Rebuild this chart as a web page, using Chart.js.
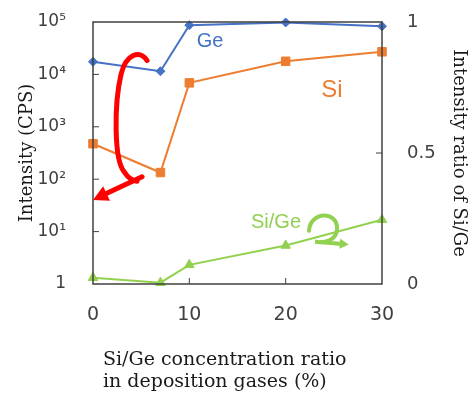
<!DOCTYPE html>
<html>
<head>
<meta charset="utf-8">
<script src="https://cdn.jsdelivr.net/npm/chart.js@4.4.0/dist/chart.umd.min.js"></script>
<style>
html, body { margin: 0; padding: 0; background: #fff; }
</style>
</head>
<body>
<canvas id="chart" width="473" height="396"></canvas>
<script>
// Si/Ge concentration ratio in deposition gases (%)
var ratio = [0, 7, 10, 20, 30];
// intensities (CPS), left log axis
var ge_cps = [17400, 11500, 87000, 98000, 83000];
var si_cps = [475, 134, 6900, 17800, 27000];
// Si/Ge intensity ratio, right axis
var si_ge = [0.024, 0.005, 0.073, 0.147, 0.245];

var log_ticks = [1, 10, 100, 1000, 10000, 100000];
var log_labels = ['1', '10\u00b9', '10\u00b2', '10\u00b3', '10\u2074', '10\u2075'];
var x_ticks = [0, 10, 20, 30];
var ratio_ticks = [0, 0.5, 1];

var axisColor = '#404040';
var tickFont = { family: '"DejaVu Sans"', size: 19 };
var sideFont = { family: '"DejaVu Sans"', size: 17 };
var titleFont = { family: '"DejaVu Serif"', size: 18 };

function pts(ys) {
  return ys.map(function (v, i) { return { x: ratio[i], y: v }; });
}

// frame, inner ticks, hand-drawn arrows and series labels
var decor = {
  id: 'decor',
  afterDatasetsDraw: function (chart) {
    var ctx = chart.ctx, a = chart.chartArea;
    var sx = chart.scales.x, sy = chart.scales.y, sr = chart.scales.y2;
    function P(x, v) { return [sx.getPixelForValue(x), sr.getPixelForValue(v)]; }

    ctx.save();
    // frame
    ctx.strokeStyle = axisColor;
    ctx.lineWidth = 1.5;
    ctx.strokeRect(a.left, a.top, a.right - a.left, a.bottom - a.top);
    // inward tick marks
    ctx.lineWidth = 1;
    ctx.beginPath();
    log_ticks.slice(1, -1).forEach(function (v) {
      var y = sy.getPixelForValue(v);
      ctx.moveTo(a.left, y); ctx.lineTo(a.left + 6, y);
    });
    x_ticks.slice(1, -1).forEach(function (v) {
      var x = sx.getPixelForValue(v);
      ctx.moveTo(x, a.bottom); ctx.lineTo(x, a.bottom - 6);
    });
    ratio_ticks.slice(1, -1).forEach(function (v) {
      var y = sr.getPixelForValue(v);
      ctx.moveTo(a.right, y); ctx.lineTo(a.right - 6, y);
    });
    ctx.stroke();

    function head(from, tip, len, half, color) {
      var ang = Math.atan2(tip[1] - from[1], tip[0] - from[0]);
      ctx.fillStyle = color;
      ctx.beginPath();
      ctx.moveTo(tip[0], tip[1]);
      ctx.lineTo(tip[0] - len * Math.cos(ang) + half * Math.sin(ang), tip[1] - len * Math.sin(ang) - half * Math.cos(ang));
      ctx.lineTo(tip[0] - len * Math.cos(ang) - half * Math.sin(ang), tip[1] - len * Math.sin(ang) + half * Math.cos(ang));
      ctx.closePath();
      ctx.fill();
    }

    // red bracket arrow
    ctx.strokeStyle = '#ff0000';
    ctx.lineWidth = 5;
    ctx.lineCap = 'round';
    var p;
    ctx.beginPath();
    p = P(5.61, 0.853); ctx.moveTo(p[0], p[1]);
    var c1 = P(4.88, 0.895), c2 = P(3.43, 0.88), e = P(2.91, 0.80);
    ctx.bezierCurveTo(c1[0], c1[1], c2[0], c2[1], e[0], e[1]);
    c1 = P(2.18, 0.685); c2 = P(2.18, 0.475); e = P(3.22, 0.429);
    ctx.bezierCurveTo(c1[0], c1[1], c2[0], c2[1], e[0], e[1]);
    c1 = P(3.84, 0.394); e = P(4.57, 0.392);
    ctx.quadraticCurveTo(c1[0], c1[1], e[0], e[1]);
    ctx.stroke();
    var rFrom = P(5.09, 0.409), rTip = P(0, 0.321), rEnd = P(1.0, 0.339);
    ctx.beginPath();
    ctx.moveTo(rFrom[0], rFrom[1]); ctx.lineTo(rEnd[0], rEnd[1]);
    ctx.stroke();
    head(rFrom, rTip, 15, 8, '#ff0000');

    // green curl arrow
    ctx.strokeStyle = '#92d050';
    ctx.lineWidth = 4;
    ctx.beginPath();
    p = P(22.42, 0.203); ctx.moveTo(p[0], p[1]);
    c1 = P(22.53, 0.28); c2 = P(25.5, 0.28); e = P(25.33, 0.207);
    ctx.bezierCurveTo(c1[0], c1[1], c2[0], c2[1], e[0], e[1]);
    c1 = P(25.23, 0.166); c2 = P(24.09, 0.156); e = P(23.05, 0.161);
    ctx.bezierCurveTo(c1[0], c1[1], c2[0], c2[1], e[0], e[1]);
    var gEnd = P(25.9, 0.153);
    ctx.lineTo(gEnd[0], gEnd[1]);
    ctx.stroke();
    head(P(23.05, 0.161), P(26.55, 0.151), 9, 5, '#92d050');

    // series labels
    ctx.textAlign = 'center';
    ctx.textBaseline = 'middle';
    ctx.font = '20px "Liberation Sans"';
    ctx.fillStyle = '#4472c4';
    p = P(12.15, 0.926); ctx.fillText('Ge', p[0], p[1]);
    ctx.font = '24px "Liberation Sans"';
    ctx.fillStyle = '#ed7d31';
    p = P(24.81, 0.739); ctx.fillText('Si', p[0], p[1]);
    ctx.font = '20px "Liberation Sans"';
    ctx.fillStyle = '#92d050';
    p = P(19.0, 0.233); ctx.fillText('Si/Ge', p[0], p[1]);

    // x axis title, two lines left aligned
    ctx.textAlign = 'left';
    ctx.textBaseline = 'alphabetic';
    ctx.fillStyle = '#1a1a1a';
    ctx.font = '19px "DejaVu Serif"';
    ctx.fillText('Si/Ge concentration ratio', a.left + 10, a.bottom + 81);
    ctx.fillText('in deposition gases (%)', a.left + 10, a.bottom + 103);
    ctx.restore();
  }
};

var ctx = document.getElementById('chart').getContext('2d');
new Chart(ctx, {
  type: 'line',
  data: {
    datasets: [
      {
        label: 'Ge', data: pts(ge_cps), yAxisID: 'y',
        borderColor: '#4472c4', backgroundColor: '#4472c4',
        borderWidth: 2, pointStyle: 'rectRot', pointRadius: 4.5, pointBorderWidth: 1,
        clip: false
      },
      {
        label: 'Si', data: pts(si_cps), yAxisID: 'y',
        borderColor: '#ed7d31', backgroundColor: '#ed7d31',
        borderWidth: 2, pointStyle: 'rect', pointRadius: 6, pointBorderWidth: 1,
        clip: false
      },
      {
        label: 'Si/Ge', data: pts(si_ge), yAxisID: 'y2',
        borderColor: '#92d050', backgroundColor: '#92d050',
        borderWidth: 2, pointStyle: 'triangle', pointRadius: 5.5, pointBorderWidth: 1,
        clip: false
      }
    ]
  },
  options: {
    responsive: false,
    animation: false,
    layout: { padding: { top: 22, left: 0, right: 0, bottom: 0 } },
    plugins: { legend: { display: false }, tooltip: { enabled: false } },
    scales: {
      x: {
        type: 'linear', min: 0, max: 30,
        grid: { display: false }, border: { display: false },
        ticks: { stepSize: 10, padding: 12, color: axisColor, font: tickFont, maxRotation: 0 },
        afterFit: function (s) { s.height = 112; }
      },
      y: {
        type: 'logarithmic', position: 'left', min: 1, max: 100000,
        grid: { display: false }, border: { display: false },
        afterBuildTicks: function (s) { s.ticks = log_ticks.map(function (v) { return { value: v }; }); },
        ticks: {
          padding: 19, color: axisColor, font: sideFont,
          callback: function (v) { return log_labels[log_ticks.indexOf(v)]; }
        },
        title: { display: true, text: 'Intensity (CPS)', color: '#1a1a1a', font: titleFont, padding: { top: 17, bottom: 0 } },
        afterFit: function (s) { s.width = 93; s.paddingTop = 0; s.paddingBottom = 0; }
      },
      y2: {
        type: 'linear', position: 'right', min: 0, max: 1,
        grid: { display: false }, border: { display: false },
        afterBuildTicks: function (s) { s.ticks = ratio_ticks.map(function (v) { return { value: v }; }); },
        ticks: {
          padding: 17, color: axisColor, font: { family: '"DejaVu Sans"', size: 18 },
          callback: function (v) { return String(v); }
        },
        title: { display: true, text: 'Intensity ratio of Si/Ge', color: '#1a1a1a', font: titleFont, padding: { top: 4, bottom: 0 } },
        afterFit: function (s) { s.width = 91; s.paddingTop = 0; s.paddingBottom = 0; }
      }
    }
  },
  plugins: [decor]
});
</script>
</body>
</html>
